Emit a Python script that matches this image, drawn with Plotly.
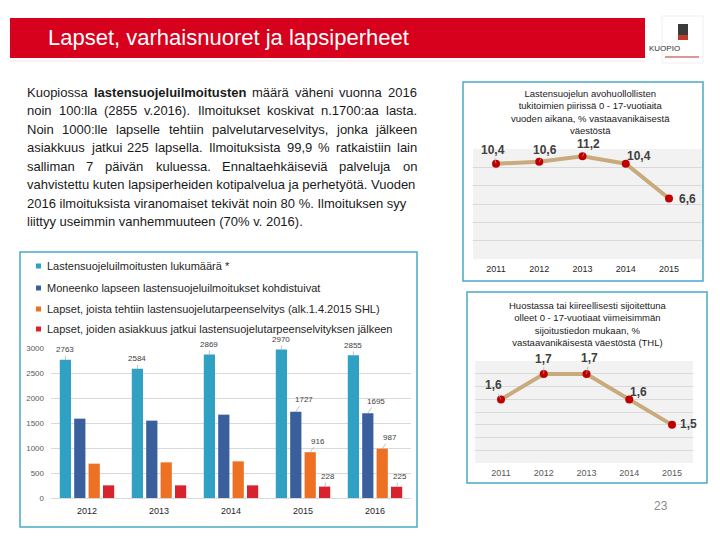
import plotly.graph_objects as go

# ---------------- DATA ----------------
bar_years = ['2012', '2013', '2014', '2015', '2016']
ilmoitukset = [2763, 2584, 2869, 2970, 2855]
lapset_kohdistui = [1587, 1547, 1667, 1727, 1695]
selvitys_tehty = [687, 713, 733, 916, 987]
asiakkuus_jatkui = [253, 253, 253, 228, 225]

bar_series_names = [
    'Lastensuojeluilmoitusten lukumäärä *',
    'Moneenko lapseen lastensuojeluilmoitukset kohdistuivat',
    'Lapset, joista tehtiin lastensuojelutarpeenselvitys (alk.1.4.2015 SHL)',
    'Lapset, joiden asiakkuus jatkui lastensuojelutarpeenselvityksen jälkeen',
]
bar_colors = ['#31a1c3', '#39609c', '#ee7023', '#d8222e']
# which years carry a value label, per series
labelled_years = [
    ['2012', '2013', '2014', '2015', '2016'],
    ['2015', '2016'],
    ['2015', '2016'],
    ['2015', '2016'],
]

line_years = [2011, 2012, 2013, 2014, 2015]
avohuolto = [10.4, 10.6, 11.2, 10.4, 6.6]
huostassa = [1.6, 1.7, 1.7, 1.6, 1.5]

title_text = 'Lapset, varhaisnuoret ja lapsiperheet'
avo_title = ['Lastensuojelun avohuollollisten', 'tukitoimien piirissä 0 - 17-vuotiaita',
             'vuoden aikana, % vastaavanikäisestä', 'väestöstä']
huos_title = ['Huostassa tai kiireellisesti sijoitettuna', 'olleet 0 - 17-vuotiaat viimeisimmän',
              'sijoitustiedon mukaan, %', 'vastaavanikäisestä väestöstä (THL)']

paragraph = [
    'Kuopiossa *lastensuojeluilmoitusten* määrä väheni vuonna 2016',
    'noin 100:lla (2855 v.2016). Ilmoitukset koskivat n.1700:aa lasta.',
    'Noin 1000:lle lapselle tehtiin palvelutarveselvitys, jonka jälkeen',
    'asiakkuus jatkui 225 lapsella. Ilmoituksista 99,9 % ratkaistiin lain',
    'salliman 7 päivän kuluessa. Ennaltaehkäiseviä palveluja on',
    'vahvistettu kuten lapsiperheiden kotipalvelua ja perhetyötä. Vuoden',
    '2016 ilmoituksista viranomaiset tekivät noin 80 %. Ilmoituksen syy',
    'liittyy useimmin vanhemmuuteen (70% v. 2016).',
]

# the page body has an 8px margin, so the figure is 8px smaller and offset
OFF = 8
W, H = 720 - OFF, 540 - OFF
FONT = 'Liberation Sans, Arial, sans-serif'


def px(x):
    return (x - OFF) / W


def py(y):
    return 1 - (y - OFF) / H


# approximate Arial widths (1/1000 em)
REG = dict(zip('abcdefghijklmnopqrstuvwxyzäö',
               [556, 556, 500, 556, 556, 278, 556, 556, 222, 222, 500, 222, 833, 556, 556, 556, 556, 333,
                500, 278, 556, 500, 722, 500, 500, 500, 556, 556]))
REG.update(dict(zip('ABCDEFGHIJKLMNOPRSTUVW',
                    [667, 667, 722, 722, 667, 611, 778, 722, 278, 500, 667, 556, 833, 722, 778, 667, 722,
                     667, 611, 722, 667, 944])))
REG.update({c: 556 for c in '0123456789'})
REG.update({'.': 278, ',': 278, ':': 278, '(': 333, ')': 333, '%': 889, '*': 389, '-': 333})
BOLD = dict(zip('abcdefghijklmnopqrstuvwxyzäö',
                [556, 611, 556, 611, 556, 333, 611, 611, 278, 278, 556, 278, 889, 611, 611, 611, 611, 389,
                 556, 333, 611, 556, 778, 556, 556, 500, 556, 611]))


def word_width(w, size, bold=False):
    tab = BOLD if bold else REG
    return sum(tab.get(c, 556) for c in w) / 1000 * size


fig = go.Figure()

# ---------------- bar chart ----------------
series = [ilmoitukset, lapset_kohdistui, selvitys_tehty, asiakkuus_jatkui]
for name, vals, col in zip(bar_series_names, series, bar_colors):
    fig.add_trace(go.Bar(x=bar_years, y=vals, name=name, marker=dict(color=col, line=dict(width=0)),
                         xaxis='x', yaxis='y', showlegend=False, hoverinfo='skip'))

# line charts
fig.add_trace(go.Scatter(x=line_years, y=avohuolto, mode='lines+markers', xaxis='x2', yaxis='y2',
                         line=dict(color='#c8aa7d', width=4), marker=dict(color='#c00000', size=8),
                         showlegend=False))
fig.add_trace(go.Scatter(x=line_years, y=huostassa, mode='lines+markers', xaxis='x3', yaxis='y3',
                         line=dict(color='#c8aa7d', width=4), marker=dict(color='#c00000', size=8),
                         showlegend=False))

ann = []
shapes = []

# banner
shapes.append(dict(type='rect', xref='paper', yref='paper', x0=px(10), x1=px(645), y0=py(58), y1=py(18),
                   fillcolor='#d7001d', line=dict(width=0)))
shapes.append(dict(type='line', xref='paper', yref='paper', x0=px(10), x1=px(645), y0=py(61), y1=py(61),
                   line=dict(color='#f6e3ea', width=1)))
ann.append(dict(text=title_text, x=px(46), y=py(37), xref='paper', yref='paper', xanchor='left',
                yanchor='middle', showarrow=False, font=dict(family=FONT, size=22, color='white')))

# logo
shapes.append(dict(type='rect', xref='paper', yref='paper', x0=px(662), x1=px(703), y0=py(63), y1=py(16),
                   fillcolor='white', line=dict(color='#efefef', width=1)))
shapes.append(dict(type='rect', xref='paper', yref='paper', x0=px(678), x1=px(688), y0=py(35), y1=py(24),
                   fillcolor='#3a3a3a', line=dict(width=0)))
shapes.append(dict(type='rect', xref='paper', yref='paper', x0=px(678), x1=px(688), y0=py(40), y1=py(35),
                   fillcolor='#c0392b', line=dict(width=0)))
shapes.append(dict(type='line', xref='paper', yref='paper', x0=px(665), x1=px(699), y0=py(57), y1=py(57),
                   line=dict(color='#b03030', width=1)))
ann.append(dict(text='KUOPIO', x=px(682), y=py(49), xref='paper', yref='paper', showarrow=False,
                yanchor='middle', font=dict(family=FONT, size=8, color='#333333')))

# justified paragraph
left, right = 27, 417
PAD = 2  # annotation box padding (borderpad + borderwidth)
line_y = [92, 110.5, 129, 147.5, 166, 184.5, 203, 221.5]
fsize = 13
space_w = word_width(' ', fsize)
for i, (txt, yy) in enumerate(zip(paragraph, line_y)):
    words = txt.split(' ')
    info = []
    for w in words:
        bold = w.startswith('*')
        clean = w.strip('*')
        info.append((clean, bold, word_width(clean, fsize, bold)))
    total = sum(w[2] for w in info)
    gap = (right - left - total) / (len(info) - 1)
    last = i == len(paragraph) - 1
    if last or gap < 0.8 * space_w:
        html = ' '.join(('<b>%s</b>' % w) if b else w for w, b, _ in info)
        ann.append(dict(text=html, x=px(left - PAD), y=py(yy), xref='paper', yref='paper', xanchor='left',
                        yanchor='middle', showarrow=False,
                        font=dict(family=FONT, size=fsize, color='#1a1a1a')))
        continue
    x = left
    for j, (w, bold, ww) in enumerate(info):
        if j == len(info) - 1:
            ann.append(dict(text=w, x=px(right + PAD), y=py(yy), xref='paper', yref='paper',
                            xanchor='right', yanchor='middle', showarrow=False,
                            font=dict(family=FONT, size=fsize, color='#1a1a1a')))
        else:
            ann.append(dict(text=('<b>%s</b>' % w) if bold else w, x=px(x - PAD), y=py(yy), xref='paper',
                            yref='paper', xanchor='left', yanchor='middle', showarrow=False,
                            font=dict(family=FONT, size=fsize, color='#1a1a1a')))
        x += ww + gap

# boxes
box_col = '#4aa9c3'
for (x0, y0, x1, y1) in [(20, 252, 417, 527), (463, 82, 703, 281), (467, 292, 707, 483)]:
    shapes.append(dict(type='rect', xref='paper', yref='paper', x0=px(x0), x1=px(x1), y0=py(y1), y1=py(y0),
                       line=dict(color=box_col, width=1.5), fillcolor='rgba(0,0,0,0)'))

# bar legend (manual)
leg_y = [266, 288, 309, 329]
for name, col, yy in zip(bar_series_names, bar_colors, leg_y):
    shapes.append(dict(type='rect', xref='paper', yref='paper', x0=px(36), x1=px(41), y0=py(yy + 2.5),
                       y1=py(yy - 2.5), fillcolor=col, line=dict(width=0)))
    ann.append(dict(text=name, x=px(45), y=py(yy), xref='paper', yref='paper', xanchor='left',
                    yanchor='middle', showarrow=False, font=dict(family=FONT, size=11, color='#262626')))

# bar value labels
bar_offsets = [-21.6, -7.2, 7.2, 21.6]
label_shift = {
    0: dict(ax=0, ay=-10),
    1: dict(ax=8, ay=-12),
    2: dict(ax=8, ay=-11),
    3: dict(ax=3, ay=-10),
}
for s, (vals, yrs) in enumerate(zip(series, labelled_years)):
    for ci, (yr, v) in enumerate(zip(bar_years, vals)):
        if yr in yrs:
            ann.append(dict(text=str(v), x=ci, y=v, xref='x', yref='y', xshift=bar_offsets[s],
                            showarrow=True, arrowhead=0, arrowwidth=0.7, arrowcolor='#a6a6a6',
                            ax=label_shift[s]['ax'], ay=label_shift[s]['ay'],
                            font=dict(family=FONT, size=8, color='#404040')))

# line chart titles
ann.append(dict(text='<br>'.join(avo_title), x=px(590), y=py(86), xref='paper', yref='paper',
                xanchor='center', yanchor='top', showarrow=False, align='center',
                font=dict(family=FONT, size=9.5, color='#1a1a1a')))
ann.append(dict(text='<br>'.join(huos_title), x=px(588), y=py(298), xref='paper', yref='paper',
                xanchor='center', yanchor='top', showarrow=False, align='center',
                font=dict(family=FONT, size=9.5, color='#1a1a1a')))


def fmt(v):
    return ('%.1f' % v).replace('.', ',')


avo_lbl = [dict(ax=-3, ay=-14, arrow=True), dict(ax=6, ay=-12, arrow=True), dict(ax=6, ay=-12, arrow=True),
           dict(ax=13, ay=-8, arrow=False), dict(ax=18, ay=0, arrow=False)]
huos_lbl = [dict(ax=-7, ay=-14, arrow=True), dict(ax=0, ay=-15, arrow=True), dict(ax=3, ay=-16, arrow=True),
            dict(ax=9, ay=-7, arrow=False), dict(ax=16, ay=-1, arrow=False)]
for xa, ya, vals, lbls in [('x2', 'y2', avohuolto, avo_lbl), ('x3', 'y3', huostassa, huos_lbl)]:
    for yr, v, l in zip(line_years, vals, lbls):
        f = dict(family=FONT, size=12, color='#404040')
        if l['arrow']:
            ann.append(dict(text='<b>%s</b>' % fmt(v), x=yr, y=v, xref=xa, yref=ya, showarrow=True,
                            arrowhead=0, arrowwidth=0.7, arrowcolor='#a6a6a6', ax=l['ax'], ay=l['ay'],
                            font=f))
        else:
            ann.append(dict(text='<b>%s</b>' % fmt(v), x=yr, y=v, xref=xa, yref=ya, showarrow=False,
                            xshift=l['ax'], yshift=-l['ay'], font=f))

# gray plot backgrounds
for xa, ya in [('x2', 'y2'), ('x3', 'y3')]:
    shapes.append(dict(type='rect', xref='%s domain' % xa, yref='%s domain' % ya, x0=0, x1=1, y0=0, y1=1,
                       fillcolor='#f2f2f2', line=dict(width=0), layer='below'))

# page number
ann.append(dict(text='23', x=px(670), y=py(515), xref='paper', yref='paper', showarrow=False,
                font=dict(family=FONT, size=12, color='#8c8c8c')))

fig.update_layout(
    template='none',
    width=W, height=H, margin=dict(l=0, r=0, t=0, b=0, pad=0, autoexpand=False),
    paper_bgcolor='white', plot_bgcolor='rgba(0,0,0,0)',
    barmode='group', bargap=0.2, bargroupgap=0.22,
    font=dict(family=FONT),
    showlegend=False,
    xaxis=dict(domain=[px(51), px(411)], anchor='y', type='category', range=[-0.5, 4.5], showgrid=False,
               showline=True, linecolor='#d9d9d9', ticks='', tickfont=dict(size=9, color='#262626'),
               ticklabelstandoff=4, automargin=False, zeroline=False),
    yaxis=dict(domain=[py(498), py(348)], anchor='x', range=[0, 3000], dtick=500, gridcolor='#d9d9d9',
               showline=False, zeroline=False, ticks='', tickfont=dict(size=8, color='#595959'),
               ticklabelstandoff=6, automargin=False),
    xaxis2=dict(domain=[px(473), px(703)], anchor='y2', range=[2010.468, 2015.786], tickvals=line_years,
                showgrid=False, showline=False, ticks='', tickfont=dict(size=9, color='#262626'),
                ticklabelstandoff=3, zeroline=False, automargin=False),
    yaxis2=dict(domain=[py(259), py(149)], anchor='x2', range=[0, 12], dtick=2, showticklabels=False,
                gridcolor='#d9d9d9', zeroline=False, showline=False, automargin=False, ticks=''),
    xaxis3=dict(domain=[px(475), px(693)], anchor='y3', range=[2010.392, 2015.491], tickvals=line_years,
                showgrid=False, showline=False, ticks='', tickfont=dict(size=9, color='#595959'),
                ticklabelstandoff=3, zeroline=False, automargin=False),
    yaxis3=dict(domain=[py(463), py(361)], anchor='x3', range=[1.35, 1.751], tick0=1.35, dtick=0.05,
                showticklabels=False, gridcolor='#d9d9d9', zeroline=False, showline=False,
                automargin=False, ticks=''),
    annotations=ann, shapes=shapes,
)

fig.write_html('out.html')
